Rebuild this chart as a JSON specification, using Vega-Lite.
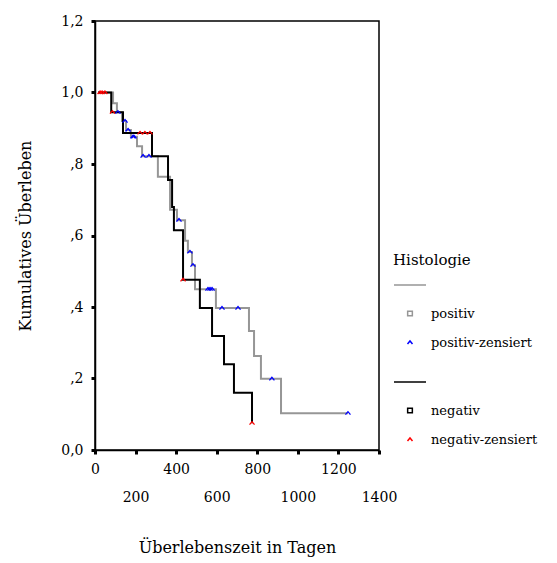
{
  "$schema": "https://vega.github.io/schema/vega-lite/v6.json",
  "width": 284,
  "height": 429,
  "autosize": "none",
  "padding": {"left": 95, "top": 21, "right": 178, "bottom": 113},
  "background": "white",
  "config": {
    "view": {"stroke": "black", "strokeWidth": 1.5},
    "font": "DejaVu Serif",
    "axis": {
      "grid": false,
      "domainColor": "black",
      "domainWidth": 1.5,
      "tickColor": "black",
      "tickSize": 4,
      "tickWidth": 3,
      "labelFont": "DejaVu Serif",
      "labelFontSize": 14,
      "labelColor": "black",
      "titleFont": "DejaVu Serif",
      "titleFontSize": 16,
      "titleFontWeight": "normal",
      "titleColor": "black"
    }
  },
  "datasets": {
    "curve": [
      {"group": "positiv", "t": 15, "S": 1.0},
      {"group": "positiv", "t": 89, "S": 0.97},
      {"group": "positiv", "t": 108, "S": 0.945},
      {"group": "positiv", "t": 133, "S": 0.92},
      {"group": "positiv", "t": 153, "S": 0.895},
      {"group": "positiv", "t": 177, "S": 0.876},
      {"group": "positiv", "t": 207, "S": 0.85},
      {"group": "positiv", "t": 232, "S": 0.822},
      {"group": "positiv", "t": 310, "S": 0.764},
      {"group": "positiv", "t": 370, "S": 0.672},
      {"group": "positiv", "t": 404, "S": 0.643},
      {"group": "positiv", "t": 444, "S": 0.585},
      {"group": "positiv", "t": 458, "S": 0.554},
      {"group": "positiv", "t": 478, "S": 0.517},
      {"group": "positiv", "t": 493, "S": 0.45},
      {"group": "positiv", "t": 596, "S": 0.397},
      {"group": "positiv", "t": 759, "S": 0.333},
      {"group": "positiv", "t": 784, "S": 0.263},
      {"group": "positiv", "t": 818, "S": 0.199},
      {"group": "positiv", "t": 917, "S": 0.103},
      {"group": "positiv", "t": 1247, "S": 0.103},
      {"group": "negativ", "t": 15, "S": 1.0},
      {"group": "negativ", "t": 80, "S": 0.945},
      {"group": "negativ", "t": 138, "S": 0.887},
      {"group": "negativ", "t": 281, "S": 0.822},
      {"group": "negativ", "t": 360, "S": 0.755},
      {"group": "negativ", "t": 380, "S": 0.68},
      {"group": "negativ", "t": 389, "S": 0.615},
      {"group": "negativ", "t": 434, "S": 0.476},
      {"group": "negativ", "t": 517, "S": 0.397},
      {"group": "negativ", "t": 577, "S": 0.319},
      {"group": "negativ", "t": 636, "S": 0.24},
      {"group": "negativ", "t": 685, "S": 0.16},
      {"group": "negativ", "t": 774, "S": 0.075}
    ],
    "censor": [
      {"key": "positiv-zensiert", "t": 113, "S": 0.945},
      {"key": "positiv-zensiert", "t": 148, "S": 0.92},
      {"key": "positiv-zensiert", "t": 163, "S": 0.895},
      {"key": "positiv-zensiert", "t": 187, "S": 0.876},
      {"key": "positiv-zensiert", "t": 192, "S": 0.876},
      {"key": "positiv-zensiert", "t": 237, "S": 0.822},
      {"key": "positiv-zensiert", "t": 266, "S": 0.822},
      {"key": "positiv-zensiert", "t": 414, "S": 0.643},
      {"key": "positiv-zensiert", "t": 468, "S": 0.554},
      {"key": "positiv-zensiert", "t": 483, "S": 0.517},
      {"key": "positiv-zensiert", "t": 557, "S": 0.45},
      {"key": "positiv-zensiert", "t": 567, "S": 0.45},
      {"key": "positiv-zensiert", "t": 577, "S": 0.45},
      {"key": "positiv-zensiert", "t": 626, "S": 0.397},
      {"key": "positiv-zensiert", "t": 705, "S": 0.397},
      {"key": "positiv-zensiert", "t": 872, "S": 0.199},
      {"key": "positiv-zensiert", "t": 1247, "S": 0.103},
      {"key": "negativ-zensiert", "t": 25, "S": 1.0},
      {"key": "negativ-zensiert", "t": 35, "S": 1.0},
      {"key": "negativ-zensiert", "t": 49, "S": 1.0},
      {"key": "negativ-zensiert", "t": 86, "S": 0.945},
      {"key": "negativ-zensiert", "t": 222, "S": 0.887},
      {"key": "negativ-zensiert", "t": 246, "S": 0.887},
      {"key": "negativ-zensiert", "t": 271, "S": 0.887},
      {"key": "negativ-zensiert", "t": 434, "S": 0.476},
      {"key": "negativ-zensiert", "t": 774, "S": 0.075}
    ]
  },
  "encoding": {
    "x": {
      "field": "t",
      "type": "quantitative",
      "scale": {"domain": [0, 1400], "nice": false, "zero": false},
      "axis": {
        "title": "Überlebenszeit in Tagen",
        "values": [0, 200, 400, 600, 800, 1000, 1200, 1400],
        "format": "d",
        "labelExpr": "datum.value % 400 == 0 ? datum.label : ['', datum.label]",
        "labelLineHeight": 28,
        "labelPadding": 8,
        "labelOverlap": false,
        "labelFlush": false,
        "titlePadding": 35
      }
    },
    "y": {
      "field": "S",
      "type": "quantitative",
      "scale": {"domain": [0, 1.2], "nice": false, "zero": false},
      "axis": {
        "title": "Kumulatives Überleben",
        "values": [0, 0.2, 0.4, 0.6, 0.8, 1, 1.2],
        "labelExpr": "datum.value == 0 ? '0,0' : (datum.value >= 1 ? replace(format(datum.value, '.1f'), '.', ',') : replace(format(datum.value, '.1f'), '0.', ','))",
        "labelPadding": 8,
        "titlePadding": 27
      }
    }
  },
  "layer": [
    {
      "data": {"name": "curve"},
      "mark": {"type": "line", "interpolate": "step-after", "strokeWidth": 2},
      "encoding": {
        "stroke": {
          "field": "group",
          "type": "nominal",
          "scale": {"domain": ["positiv", "negativ"], "range": ["#969696", "#000000"]},
          "legend": null
        }
      }
    },
    {
      "data": {"name": "censor"},
      "mark": {"type": "point", "filled": false, "strokeWidth": 1.3, "opacity": 1},
      "encoding": {
        "color": {
          "field": "key",
          "type": "nominal",
          "scale": {
            "domain": ["pl", "positiv", "positiv-zensiert", "nl", "negativ", "negativ-zensiert"],
            "range": ["#969696", "#969696", "#0000ff", "#000000", "#000000", "#ff0000"]
          },
          "legend": {
            "title": "Histologie",
            "orient": "none",
            "legendX": 298,
            "legendY": 232,
            "titleFont": "DejaVu Serif",
            "titleFontSize": 15,
            "titleFontWeight": "normal",
            "titleColor": "black",
            "titlePadding": 0,
            "labelFont": "DejaVu Serif",
            "labelFontSize": 13,
            "labelColor": "black",
            "labelExpr": "datum.label == 'pl' || datum.label == 'nl' ? '' : datum.label",
            "rowPadding": 15,
            "symbolStrokeWidth": 1.5
          }
        },
        "shape": {
          "field": "key",
          "type": "nominal",
          "scale": {
            "domain": ["pl", "positiv", "positiv-zensiert", "nl", "negativ", "negativ-zensiert"],
            "range": ["M-1,0H1", "square", "M-1,0.6L0,-0.6L1,0.6", "M-1,0H1", "square", "M-1,0.6L0,-0.6L1,0.6"]
          }
        },
        "size": {
          "field": "key",
          "type": "nominal",
          "scale": {
            "type": "ordinal",
            "domain": ["pl", "positiv", "positiv-zensiert", "nl", "negativ", "negativ-zensiert"],
            "range": [1024, 22, 25, 1024, 22, 25]
          }
        }
      }
    }
  ]
}
